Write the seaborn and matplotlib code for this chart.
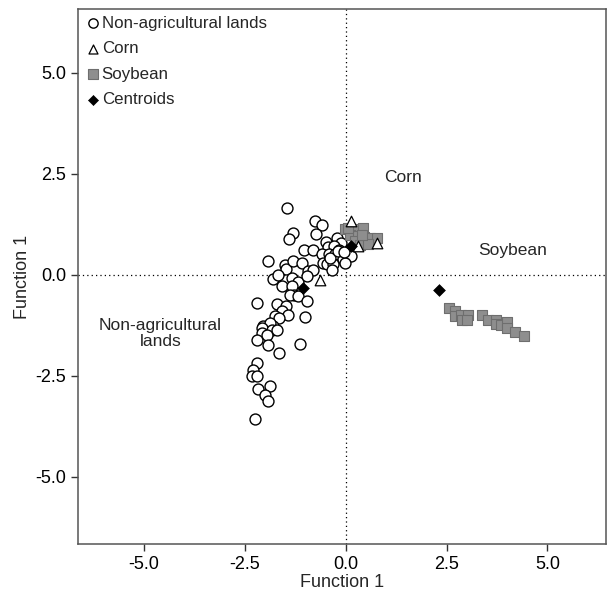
import pandas as pd
import matplotlib
matplotlib.use("Agg")
import matplotlib.pyplot as plt
import seaborn as sns

# Discriminant scores
nonag_x = [-1.46, -0.76, -0.58, -1.30, -1.41, -0.74, -0.50, -0.22, -0.12, -0.43,
           -0.29, -0.16, -1.03, -0.82, -0.60, -0.41, -0.27, -0.07, 0.13, -0.57,
           -0.47, -0.31, -0.02, -0.35, -1.92, -1.51, -1.48, -1.32, -1.09, -0.93,
           -0.82, -1.80, -1.67, -1.34, -1.18, -0.97, -1.59, -1.34, -1.28, -1.38,
           -1.18, -2.19, -1.71, -1.48, -0.97, -1.59, -1.42, -1.75, -1.65, -1.01,
           -2.04, -1.80, -1.88, -2.08, -1.84, -1.71, -2.08, -1.96, -2.21, -1.92,
           -1.65, -1.13, -2.21, -2.29, -2.32, -2.21, -2.17, -1.88, -2.00, -1.92,
           -2.25, -0.38, -0.20, -0.05]
nonag_y = [1.64, 1.32, 1.24, 1.03, 0.89, 1.01, 0.81, 0.91, 0.79, 0.69,
           0.72, 0.62, 0.60, 0.62, 0.51, 0.50, 0.50, 0.39, 0.45, 0.29,
           0.27, 0.27, 0.29, 0.12, 0.33, 0.25, 0.15, 0.35, 0.29, 0.08,
           0.12, -0.12, 0.00, -0.08, -0.17, -0.04, -0.29, -0.29, -0.50, -0.50,
           -0.52, -0.70, -0.73, -0.77, -0.66, -0.89, -0.99, -1.03, -1.07, -1.06,
           -1.28, -1.28, -1.20, -1.32, -1.36, -1.36, -1.45, -1.49, -1.61, -1.74,
           -1.93, -1.72, -2.18, -2.37, -2.52, -2.52, -2.84, -2.75, -2.98, -3.12,
           -3.58, 0.40, 0.58, 0.55]

corn_x = [0.12, -0.65, 0.77, 0.31]
corn_y = [1.34, -0.14, 0.79, 0.70]

soy_x = [-0.02, 0.19, 0.44, 0.11, 0.31, 0.45, 0.60, 0.77, 0.23, 0.35, 0.56, 0.06, 0.40,
         2.57, 2.71, 2.71, 2.85, 3.04, 2.88, 3.02, 3.37, 3.54, 3.73, 3.73, 3.85,
         4.01, 4.01, 4.20, 4.42]
soy_y = [1.12, 1.12, 1.16, 0.99, 0.95, 0.93, 0.91, 0.91, 0.84, 0.74, 0.76, 1.16, 0.99,
         -0.83, -0.91, -1.02, -0.99, -0.99, -1.12, -1.13, -0.99, -1.12, -1.12, -1.22,
         -1.24, -1.18, -1.32, -1.41, -1.51]

cent_x = [-1.05, 0.12, 2.31]
cent_y = [-0.32, 0.72, -0.37]

ticks = [-5.0, -2.5, 0.0, 2.5, 5.0]

sns.set_style("ticks")
plt.rcParams['font.family'] = ['Liberation Sans', 'DejaVu Sans']

fig = plt.figure(figsize=(6.07, 5.95), dpi=100)
ax = fig.add_axes([0.1285, 0.0857, 0.8695, 0.8993])

# reference lines through the origin
ax.axvline(0, color="black", linestyle=(0, (1, 2.5)), linewidth=0.9, zorder=0)
ax.axhline(0, color="black", linestyle=(0, (1, 2.5)), linewidth=0.9, zorder=0)

sns.scatterplot(x=nonag_x, y=nonag_y, marker="o", s=62, facecolor="white",
                edgecolor="black", linewidth=1.0, ax=ax, label="Non-agricultural lands", zorder=2)
sns.scatterplot(x=soy_x, y=soy_y, marker="s", s=62, color="#8e8e8e",
                edgecolor="#6e6e6e", linewidth=0.8, ax=ax, label="Soybean", zorder=3)
sns.scatterplot(x=corn_x, y=corn_y, marker="^", s=58, facecolor="white",
                edgecolor="black", linewidth=0.9, ax=ax, label="Corn", zorder=4)
sns.scatterplot(x=cent_x, y=cent_y, marker="D", s=36, color="black",
                edgecolor="black", ax=ax, label="Centroids", zorder=5)

ax.text(1.43, 2.4, "Corn", fontsize=12.5, ha="center", va="center")
ax.text(4.15, 0.6, "Soybean", fontsize=12.5, ha="center", va="center")
ax.text(-4.6, -1.45, "Non-agricultural\nlands", fontsize=12.5, ha="center", va="center",
        linespacing=1.05)

ax.set_xlim(-6.64, 6.45)
ax.set_ylim(-6.67, 6.58)
ax.set_xticks(ticks)
ax.set_yticks(ticks)
ax.set_xticklabels([f"{t:.1f}" for t in ticks])
ax.set_yticklabels([f"{t:.1f}" for t in ticks])
ax.tick_params(labelsize=13, length=5, width=1, colors="#333333", labelcolor="black")
ax.set_xlabel("Function 1", fontsize=13, labelpad=1)
ax.set_ylabel("Function 1", fontsize=13, labelpad=3)
for sp in ax.spines.values():
    sp.set_color("#555555")
    sp.set_linewidth(1.1)

handles, labels = ax.get_legend_handles_labels()
order = ["Non-agricultural lands", "Corn", "Soybean", "Centroids"]
hmap = dict(zip(labels, handles))
ax.legend([hmap[k] for k in order], order, loc="upper left", frameon=False,
          fontsize=12.2, markerscale=0.85, handletextpad=0.0, handlelength=1.0,
          labelspacing=0.62, borderaxespad=0.15, borderpad=0.25)

fig.savefig("out.png", dpi=100)
